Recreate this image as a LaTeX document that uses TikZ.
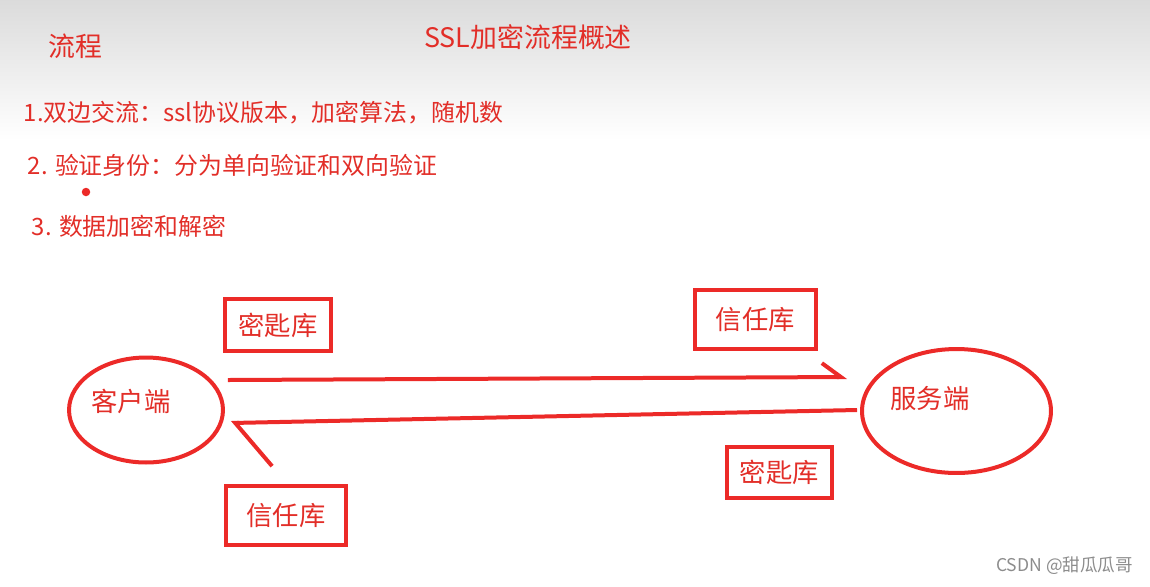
\documentclass[tikz,border=0pt]{standalone}
\usepackage{fontspec}
\setmainfont{Noto Sans CJK SC}
\usetikzlibrary{arrows.meta,shapes.geometric}
\definecolor{ink}{RGB}{226,46,40}
\definecolor{pen}{RGB}{236,42,40}

\begin{document}
\begin{tikzpicture}
            [x=0.02cm, y=-0.02cm, line width=0.08cm,
             main/.style = {draw=pen, rectangle, text=ink, font=\fontsize{15}{18}\selectfont, inner sep=1pt},
             peer/.style = {draw=pen, ellipse, inner sep=0pt},
             tag/.style = {text=ink, inner sep=0pt, font=\fontsize{15}{18}\selectfont},
             item/.style = {anchor=west, inner sep=0pt, text=ink, font=\fontsize{13.6}{16}\selectfont},
             link/.style = {color=pen, line width=0.08cm}]
            \fill[top color=black!14, bottom color=white] (0,0) rectangle (1150,140);
            \useasboundingbox (0,0) rectangle (1150,586);

            \node[tag, font=\fontsize{15.3}{18}\selectfont] (Flow) at (75,46) {流程};
            \node[tag, font=\fontsize{15.3}{18}\selectfont] (Title) at (528,37) {SSL加密流程概述};
            \node[item] (StepOne) at (22,113) {1.双边交流：ssl协议版本，加密算法，随机数};
            \node[item] (StepTwo) at (26,165) {2. 验证身份：分为单向验证和双向验证};
            \node[item] (StepThree) at (30,226) {3. 数据加密和解密};
            \fill[pen] (86,192) circle (0.085cm);

            \node[peer, minimum width=3.08cm, minimum height=2.10cm,
                  label={[tag, xshift=-0.3cm, yshift=0.18cm]center:客户端}] (Client) at (146,410) {};
            \node[peer, minimum width=3.78cm, minimum height=2.48cm,
                  label={[tag, xshift=-0.53cm, yshift=0.26cm]center:服务端}] (Server) at (956.5,411) {};

            \node[main, minimum width=2.12cm, minimum height=1.04cm] (ClientKeyStore) at (278,325) {密匙库};
            \node[main, minimum width=2.40cm, minimum height=1.18cm] (ClientTrustStore) at (286,515.5) {信任库};
            \node[main, minimum width=2.42cm, minimum height=1.18cm] (ServerTrustStore) at (755.5,319.5) {信任库};
            \node[main, minimum width=2.10cm, minimum height=1.02cm] (ServerKeyStore) at (779.5,472.5) {密匙库};

            \path[link, -{Straight Barb[harpoon, length=0.38cm, width=0.56cm]}] ([shift={(3,-30)}]Client.east) edge ([shift={(-13,-34)}]Server.west);
            \path[link, -{Straight Barb[harpoon, length=0.72cm, width=1.76cm]}] ([shift={(-3,-1)}]Server.west) edge ([shift={(6,13)}]Client.east);

            \node[anchor=east, inner sep=0pt, text=black!45, font=\fontsize{10}{12}\selectfont] (Mark) at (1135,566) {CSDN @甜瓜瓜哥};
        \end{tikzpicture}
\end{document}
